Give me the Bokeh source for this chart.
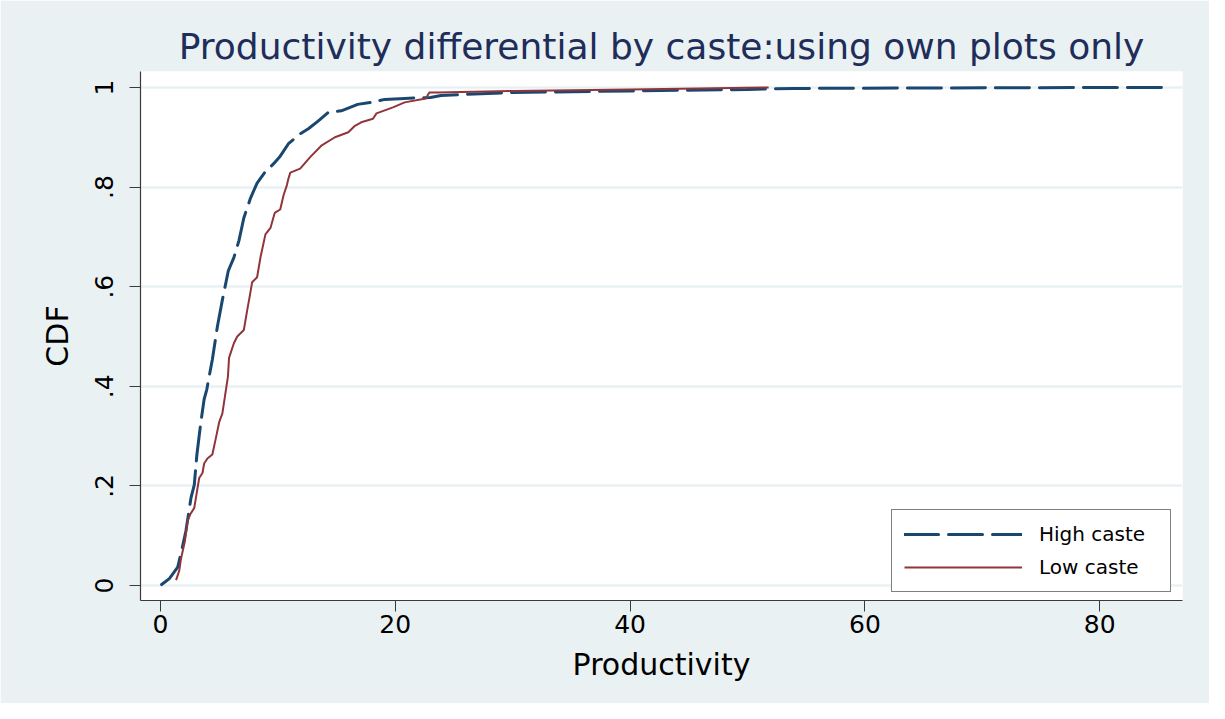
from bokeh.plotting import figure
from bokeh.models import FixedTicker, CustomJSTickFormatter, Range1d
from bokeh.embed import file_html
from bokeh.resources import INLINE

# High caste CDF
high_x = [0.1, 0.76, 1.47, 1.8, 2.17, 2.6, 2.88, 3.1, 3.44, 3.72, 3.95, 4.15, 4.42, 4.85,
          5.27, 5.78, 6.26, 6.68, 7.1, 7.67, 8.23, 8.94, 9.64, 10.2, 10.9, 11.9, 12.6,
          13.45, 14.3, 15.4, 16.8, 17.96, 19.1, 20.8, 23.0, 23.9, 30, 40, 50, 54, 65, 75, 85.5]
high_y = [0.002, 0.014, 0.037, 0.07, 0.11, 0.176, 0.202, 0.262, 0.328, 0.374, 0.394, 0.42,
          0.454, 0.52, 0.573, 0.632, 0.659, 0.692, 0.738, 0.778, 0.808, 0.831, 0.847, 0.862,
          0.887, 0.907, 0.917, 0.933, 0.95, 0.953, 0.966, 0.97, 0.976, 0.978, 0.980, 0.984,
          0.990, 0.993, 0.996, 0.998, 0.999, 0.9995, 1.0]

# Low caste CDF
low_x = [1.33, 1.6, 1.75, 2.09, 2.31, 2.54, 2.88, 3.02, 3.3, 3.58, 3.72, 4.0, 4.42, 4.71,
         5.0, 5.27, 5.5, 5.75, 5.84, 6.26, 6.54, 7.1, 7.39, 7.59, 7.81, 8.23, 8.52, 8.94,
         9.37, 9.73, 10.2, 10.49, 10.77, 10.9, 11.06, 11.9, 12.75, 13.7, 14.86, 16.0,
         16.56, 17.1, 18.1, 18.4, 19.8, 20.8, 22.6, 22.9, 23.6, 30, 40, 51.8]
low_y = [0.011, 0.03, 0.054, 0.09, 0.13, 0.143, 0.156, 0.176, 0.216, 0.226, 0.245, 0.255,
         0.263, 0.295, 0.328, 0.345, 0.381, 0.42, 0.457, 0.487, 0.5, 0.513, 0.553, 0.579,
         0.609, 0.619, 0.659, 0.705, 0.718, 0.748, 0.755, 0.784, 0.804, 0.817, 0.829,
         0.837, 0.86, 0.883, 0.9, 0.91, 0.923, 0.93, 0.937, 0.948, 0.96, 0.97, 0.978,
         0.99, 0.99, 0.993, 0.996, 1.0]

x_ticks = [0, 20, 40, 60, 80]
y_ticks = [0, 0.2, 0.4, 0.6, 0.8, 1]

BG = "#EAF1F3"
FONT = "DejaVu Sans"

p = figure(width=1209, height=703, output_backend="svg", toolbar_location=None,
           title="Productivity differential by caste:using own plots only",
           x_range=Range1d(-1.7, 87.05), y_range=Range1d(-0.03, 1.032),
           min_border_left=140, min_border_right=27, min_border_top=71,
           min_border_bottom=103)

p.background_fill_color = "white"
p.border_fill_color = BG
p.outline_line_color = None

p.title.text_font = FONT
p.title.text_font_size = "36px"
p.title.text_font_style = "normal"
p.title.text_color = "#1E2D5A"
p.title.align = "center"
p.title.offset = 0
p.title.standoff = 10

p.line(high_x, high_y, line_color="#1A476F", line_width=3, line_dash="34 10",
       line_cap="round", legend_label="High caste")
p.line(low_x, low_y, line_color="#90353B", line_width=2, legend_label="Low caste")

for ax in (p.xaxis[0], p.yaxis[0]):
    ax.axis_line_color = "#3A3A3A"
    ax.axis_line_width = 1.2
    ax.major_tick_line_color = "#3A3A3A"
    ax.major_tick_out = 11
    ax.major_tick_in = 0
    ax.minor_tick_line_color = None
    ax.major_label_text_font = FONT
    ax.major_label_text_font_size = "25px"
    ax.major_label_text_color = "black"
    ax.axis_label_text_font = FONT
    ax.axis_label_text_font_size = "30px"
    ax.axis_label_text_font_style = "normal"
    ax.axis_label_text_color = "black"

p.xaxis.ticker = FixedTicker(ticks=x_ticks)
p.xaxis.axis_label = "Productivity"
p.xaxis.major_label_standoff = 3
p.xaxis.axis_label_standoff = 11

p.yaxis.ticker = FixedTicker(ticks=y_ticks)
p.yaxis.formatter = CustomJSTickFormatter(code="""
    if (Math.abs(tick) < 1e-9) return "0";
    if (Math.abs(tick - 1) < 1e-9) return "1";
    return "." + Math.round(tick * 10).toString();
""")
p.yaxis.major_label_orientation = "vertical"
p.yaxis.axis_label = "CDF"
p.yaxis.major_label_standoff = 16
p.yaxis.axis_label_standoff = 18

p.xgrid.grid_line_color = None
p.ygrid.grid_line_color = BG
p.ygrid.grid_line_width = 2.5

lg = p.legend[0]
lg.location = (751, 8)
lg.border_line_color = "black"
lg.border_line_width = 1.2
lg.background_fill_color = "white"
lg.background_fill_alpha = 1
lg.label_text_font = FONT
lg.label_text_font_size = "20px"
lg.label_text_color = "black"
lg.glyph_width = 118
lg.glyph_height = 24
lg.label_height = 24
lg.label_standoff = 17
lg.label_width = 119
lg.spacing = 9
lg.padding = 12
lg.margin = 0

open("out.html", "w").write(file_html(p, INLINE))
